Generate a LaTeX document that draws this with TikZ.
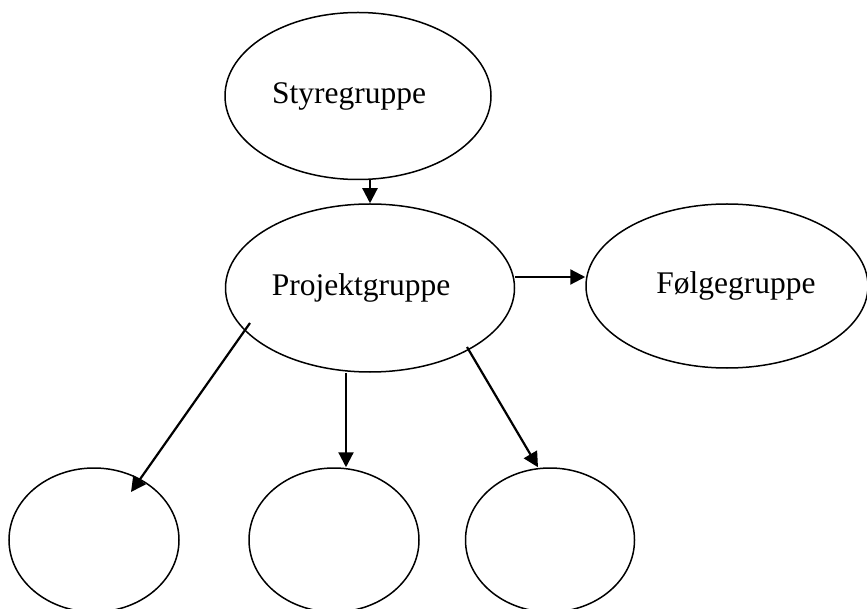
\documentclass[tikz,border=0pt]{standalone}
\usepackage{fontspec}
\setmainfont{Liberation Serif}
\usetikzlibrary{arrows.meta,shapes.geometric}

\begin{document}
\begin{tikzpicture}[x=1pt, y=-1pt,
        grp/.style={draw, ellipse, line width=1.5pt, inner sep=0pt,
            font=\fontsize{31.5}{36}\selectfont},
        tshift/.style={execute at begin node={\hspace*{#1}}},
        arr/.style={->, line width=2.2pt},
        >={Triangle[length=15pt, width=15pt]}]
        \useasboundingbox (0,0) rectangle (867,609);
        \node[grp, tshift=-18pt, minimum width=266pt, minimum height=167pt] (sty) at (358,96) {Styregruppe};
        \node[grp, tshift=-18pt, minimum width=289pt, minimum height=168pt] (proj) at (370,288) {Projektgruppe};
        \node[grp, tshift=18pt, minimum width=282pt, minimum height=164pt] (folg) at (727,286) {Følgegruppe};
        \node[grp, minimum width=170pt, minimum height=144pt] (sub1) at (94,540) {};
        \node[grp, minimum width=170pt, minimum height=144pt] (sub2) at (334,540) {};
        \node[grp, minimum width=169pt, minimum height=144pt] (sub3) at (550,540) {};
        \draw[arr] (sty.south -| proj.north) -- (proj.north);
        \draw[arr] ([yshift=11pt]proj.east) -- ([yshift=11pt]proj.east -| folg.west);
        \draw[arr] ([shift={(-120,35)}]proj.center) -- ([shift={(37,-48)}]sub1.center);
        \draw[arr] ([xshift=-24pt]proj.south) -- ([xshift=12pt]sub2.north);
        \draw[arr] ([shift={(97,59)}]proj.center) -- ([xshift=-12pt]sub3.north);
    \end{tikzpicture}
\end{document}
